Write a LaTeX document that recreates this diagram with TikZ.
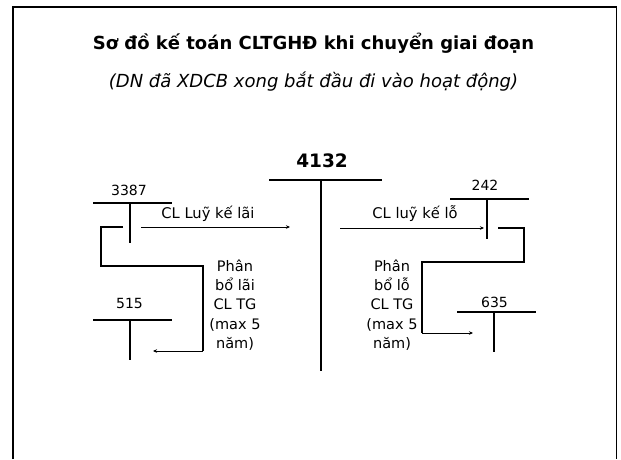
\documentclass[tikz,border=0pt]{standalone}
\usepackage{fontspec}
\setmainfont{DejaVu Sans}
\usetikzlibrary{arrows.meta}
\tikzset{
  frameline/.style={line width=2.3pt},
  tline/.style={line width=2pt},
  loopline/.style={line width=1.8pt},
  flowarrow/.style={line width=0.9pt,-{Stealth[length=4pt,width=3.5pt]}},
  acclabel/.style={font=\fontsize{14}{17}\selectfont,anchor=base,inner sep=0pt},
  flowlabel/.style={font=\fontsize{14.7}{17}\selectfont,anchor=base,inner sep=0pt},
  notelabel/.style={font=\fontsize{14.5}{19.3}\selectfont,align=center,anchor=north,inner sep=0pt},
}
\begin{document}
\begin{tikzpicture}[x=1pt,y=-1pt]
\useasboundingbox (0,0) rectangle (621,459);
% frame
\draw[frameline] (12.8,459) -- (12.8,7) -- (616.5,7);
\draw[line width=1.6pt] (616.5,6) -- (616.5,459);
% titles
\node[font=\fontsize{18}{22}\selectfont\bfseries,anchor=base,inner sep=0pt] (title) at (313.5,49) {Sơ đồ kế toán CLTGHĐ khi chuyển giai đoạn};
\node[font=\fontsize{18}{22}\selectfont\itshape,anchor=base,inner sep=0pt] (subtitle) at (313.5,87) {(DN đã XDCB xong bắt đầu đi vào hoạt động)};
% account 4132
\node[font=\fontsize{18.5}{22}\selectfont\bfseries,anchor=base,inner sep=0pt] (a4132) at (322,167) {4132};
\coordinate (t4132l) at (269,180);
\coordinate (t4132r) at (382,180);
\coordinate (t4132t) at (321,180);
\coordinate (t4132b) at (321,371);
\draw[tline] (t4132l) -- (t4132r);
\draw[tline] (t4132t) -- (t4132b);
% account 3387
\node[acclabel] (a3387) at (129,195) {3387};
\coordinate (t3387l) at (93,203);
\coordinate (t3387r) at (172,203);
\coordinate (t3387t) at (130,203);
\coordinate (t3387b) at (130,243);
\draw[tline] (t3387l) -- (t3387r);
\draw[tline] (t3387t) -- (t3387b);
% account 515
\node[acclabel] (a515) at (129.5,308) {515};
\coordinate (t515l) at (93,320);
\coordinate (t515r) at (172,320);
\coordinate (t515t) at (130,320);
\coordinate (t515b) at (130,360);
\draw[tline] (t515l) -- (t515r);
\draw[tline] (t515t) -- (t515b);
% account 242
\node[acclabel] (a242) at (485,190) {242};
\coordinate (t242l) at (450,199);
\coordinate (t242r) at (529,199);
\coordinate (t242t) at (487,199);
\coordinate (t242b) at (487,239);
\draw[tline] (t242l) -- (t242r);
\draw[tline] (t242t) -- (t242b);
% account 635
\node[acclabel] (a635) at (494.5,307) {635};
\coordinate (t635l) at (457,312);
\coordinate (t635r) at (536,312);
\coordinate (t635t) at (494,312);
\coordinate (t635b) at (494,352);
\draw[tline] (t635l) -- (t635r);
\draw[tline] (t635t) -- (t635b);
% flow 3387 -> 4132
\coordinate (f1s) at (141,227);
\coordinate (f1e) at (290,227);
\draw[flowarrow] (f1s) -- (f1e);
\node[flowlabel] (l1) at (208,218) {CL Luỹ kế lãi};
% flow 4132 -> 242
\coordinate (f2s) at (340,228);
\coordinate (f2e) at (484,228);
\draw[flowarrow] (f2s) -- (f2e);
\node[flowlabel] (l2) at (415,218) {CL luỹ kế lỗ};
% allocation 3387 -> 515
\coordinate (g1s) at (123,227);
\coordinate (g1c) at (203,351);
\coordinate (g1e) at (153,351);
\draw[loopline] (g1s) -- (101,227) -- (101,266) -- (203,266) -- (g1c);
\draw[flowarrow] (g1c) -- (g1e);
\node[notelabel] (n1) at (235,259.5) {Phân\\bổ lãi\\CL TG\\(max 5\\năm)};
% allocation 242 -> 635
\coordinate (g2s) at (498,228);
\coordinate (g2c) at (422,333);
\coordinate (g2e) at (473,333);
\draw[loopline] (g2s) -- (524,228) -- (524,262) -- (422,262) -- (g2c);
\draw[flowarrow] (g2c) -- (g2e);
\node[notelabel] (n2) at (392,259.5) {Phân\\bổ lỗ\\CL TG\\(max 5\\năm)};
\end{tikzpicture}
\end{document}
